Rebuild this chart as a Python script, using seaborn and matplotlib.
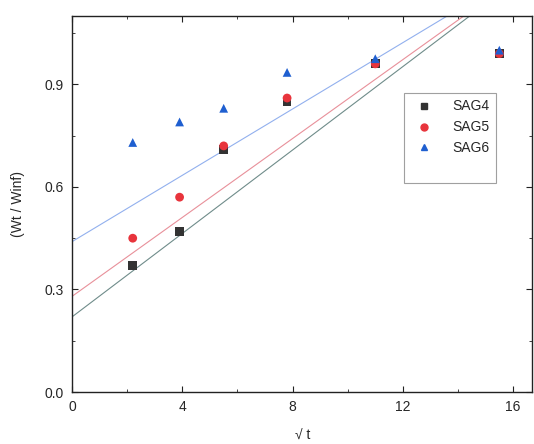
import matplotlib
matplotlib.use("Agg")
import matplotlib.pyplot as plt
from matplotlib.ticker import MultipleLocator
from matplotlib.lines import Line2D
import seaborn as sns
import pandas as pd
import numpy as np

# sqrt(t) values shared by all samples
sqrt_t = [2.2, 3.9, 5.5, 7.8, 11.0, 15.5]
sag4 = [0.37, 0.47, 0.71, 0.85, 0.96, 0.99]
sag5 = [0.45, 0.57, 0.72, 0.86, 0.96, 0.99]
sag6 = [0.73, 0.79, 0.83, 0.935, 0.975, 1.0]

# linear fits (intercept, slope)
fit_intercepts = [0.22, 0.28, 0.44]
fit_slopes = [0.061, 0.0577, 0.0485]

samples = ["SAG4", "SAG5", "SAG6"]
colors = {"SAG4": "#333333", "SAG5": "#e8343c", "SAG6": "#1f5fd0"}
line_colors = ["#6f8c8a", "#e8909a", "#92b0ee"]
markers = {"SAG4": "s", "SAG5": "o", "SAG6": "^"}

df = pd.DataFrame({
    "sqrt_t": sqrt_t * 3,
    "ratio": sag4 + sag5 + sag6,
    "sample": [s for s in samples for _ in sqrt_t],
})

sns.set_style("ticks")
plt.rcParams["font.family"] = ["Liberation Sans", "DejaVu Sans"]

fig = plt.figure(figsize=(5.34, 4.44), dpi=100)
ax = fig.add_axes([0.135, 0.117, 0.862, 0.847])

xx = np.array([0, 16.7])
for b, m, c in zip(fit_intercepts, fit_slopes, line_colors):
    ax.plot(xx, b + m * xx, color=c, lw=0.8, zorder=1)

sns.scatterplot(data=df, x="sqrt_t", y="ratio", hue="sample", style="sample",
                palette=colors, markers=markers, s=40, edgecolor="none",
                legend=False, ax=ax, zorder=3)

ax.set_xlim(0, 16.7)
ax.set_ylim(0, 1.1)
ax.xaxis.set_major_locator(MultipleLocator(4))
ax.xaxis.set_minor_locator(MultipleLocator(2))
ax.yaxis.set_major_locator(MultipleLocator(0.3))
ax.yaxis.set_minor_locator(MultipleLocator(0.15))
ax.yaxis.set_major_formatter(matplotlib.ticker.FormatStrFormatter("%.1f"))
ax.tick_params(which="both", direction="in", top=True, right=True,
               labelsize=10, color="#222222")
ax.tick_params(which="major", length=4, pad=6)
ax.tick_params(which="minor", length=2.5)
for sp in ax.spines.values():
    sp.set_linewidth(1.0)
    sp.set_color("#222222")

ax.set_xlabel("√ t", fontsize=10, labelpad=10)
ax.set_ylabel("(Wt / Winf)", fontsize=10, labelpad=14)

handles = [Line2D([], [], ls="none", marker=markers[s], color=colors[s],
                  markersize=5) for s in samples]
handles.append(Line2D([], [], ls="none"))
leg = ax.legend(handles, samples + [""], loc="upper left",
                bbox_to_anchor=(0.705, 0.815), fontsize=10, frameon=True,
                fancybox=False, edgecolor="#888888", handletextpad=1.0,
                labelspacing=0.5, borderpad=0.5)
leg.get_frame().set_linewidth(0.8)

fig.savefig("out.png", dpi=100)
